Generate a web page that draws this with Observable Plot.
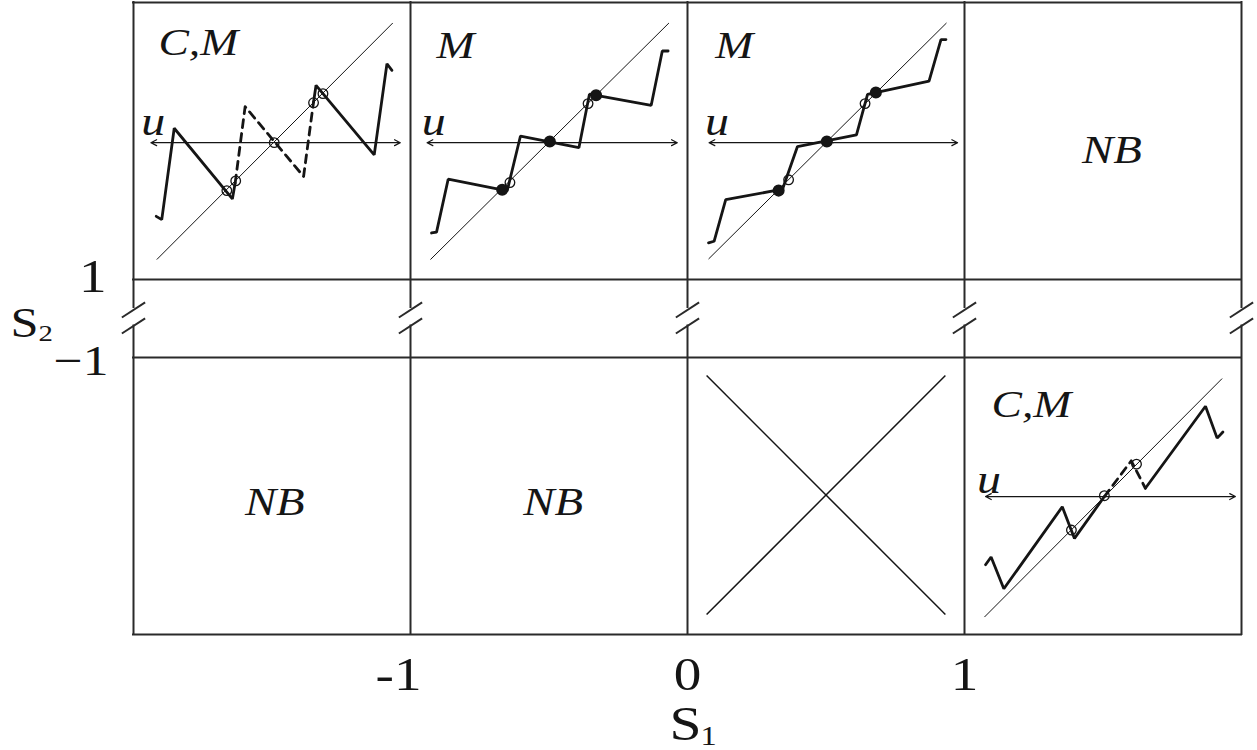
<!DOCTYPE html>
<html><head><meta charset="utf-8">
<script src="https://cdn.jsdelivr.net/npm/d3@7"></script>
<script src="https://cdn.jsdelivr.net/npm/@observablehq/plot@0.6"></script>
<style>body{margin:0;background:#fff}</style>
</head><body><div id="chart"></div>
<script>
// ---- grid of the S1 x S2 plane ----
const colEdges = [-2, -1, 0, 1, 2];
const rowEdges = [-2, -1, 1, 2];
const xTickValues = [-1, 0, 1];
const xTickLabels = ["-1", "0", "1"];
const yTickValues = [1, -1];
const yTickLabels = ["1", "−1"];
const breakTop = 0.28, breakBottom = -0.19;     // axis break in the S2 gap (-1,1)
const breakSlashes = [0.22, -0.19];             // centres of the "//" marks

// ---- panel origins: [S1 column start, S2 row start] ----
const originP1 = [-2, 1], originP2 = [-1, 1], originP3 = [0, 1], originP4 = [1, 1];
const originP5 = [-2, -2], originP6 = [-1, -2], originP7 = [0, -2], originP8 = [1, -2];

// ---- panel 1 (C,M) : local [u,v] in the unit panel ----
const p1Solid = [[0.082,0.228],[0.102,0.216],[0.147,0.546],[0.357,0.291],[0.367,0.348]];
const p1Dashed = [[0.367,0.348],[0.403,0.624],[0.614,0.372],[0.650,0.641]];
const p1Solid2 = [[0.650,0.641],[0.659,0.701],[0.869,0.450],[0.915,0.779],[0.933,0.755]];
const p1Open = [[0.337,0.321],[0.369,0.356],[0.508,0.494],[0.650,0.638],[0.684,0.671]];
const p1Diag = [[0.084,0.072],[0.936,0.926]];
const p1Axis = [0.063, 0.963, 0.494];

// ---- panel 2 (M) ----
const p2Curve = [[0.076,0.168],[0.094,0.171],[0.136,0.362],[0.349,0.320],[0.397,0.518],[0.608,0.476],[0.646,0.669],[0.869,0.629],[0.909,0.825],[0.930,0.825]];
const p2Filled = [[0.331,0.324],[0.503,0.498],[0.670,0.665]];
const p2Open = [[0.359,0.350],[0.641,0.635]];
const p2Diag = [[0.072,0.072],[0.933,0.926]];
const p2Axis = [0.060, 0.963, 0.494];

// ---- panel 3 (M) ----
const p3Curve = [[0.076,0.132],[0.096,0.138],[0.138,0.288],[0.343,0.326],[0.397,0.480],[0.610,0.522],[0.650,0.668],[0.872,0.716],[0.915,0.866],[0.933,0.866]];
const p3Filled = [[0.329,0.321],[0.503,0.498],[0.680,0.675]];
const p3Open = [[0.365,0.360],[0.641,0.635]];
const p3Diag = [[0.076,0.074],[0.935,0.926]];
const p3Axis = [0.078, 0.975, 0.494];

// ---- panel 7 (cross) ----
const p7Cross = [[[0.069,0.072],[0.931,0.935]], [[0.069,0.935],[0.931,0.072]]];

// ---- panel 8 (C,M) ----
const p8Solid = [[0.076,0.252],[0.096,0.280],[0.142,0.165],[0.353,0.461],[0.397,0.347],[0.505,0.498]];
const p8Dashed = [[0.505,0.498],[0.602,0.627],[0.653,0.528]];
const p8Solid2 = [[0.653,0.528],[0.870,0.824],[0.912,0.709],[0.933,0.731]];
const p8Open = [[0.386,0.377],[0.505,0.501],[0.621,0.615]];
const p8Diag = [[0.072,0.063],[0.930,0.924]];
const p8Axis = [0.076, 0.978, 0.498];

// ---- panel labels ----
const regimeLabels = ["C,M", "M", "M", "C,M"];
const regimeOrigins = [originP1, originP2, originP3, originP8];
const regimeAnchors = [[0.09,0.81],[0.094,0.80],[0.10,0.80],[0.0975,0.786]];
const nbOrigins = [originP4, originP5, originP6];
const nbAnchors = [[0.532,0.421],[0.51,0.431],[0.515,0.431]];
const uOrigins = [originP1, originP2, originP3, originP8];
const uAnchors = [[0.028,0.52],[0.041,0.52],[0.063,0.52],[0.045,0.51]];

// ---- broken S2 axis: rows keep full size, the gap (-1,1) is compressed ----
const gapUnits = 78 / 277;
const s2ToY = s => s >= 1 ? s + gapUnits : s <= -1 ? s + 2 : 1 + (s + 1) / 2 * gapUnits;

// ---- helpers ----
const place = (pts, [c, r]) => pts.map(([u, v]) => ({x: c + u, y: s2ToY(r + v)}));
const pieces = (list) => list.flatMap((pts, i) => pts.map(p => ({...p, z: i})));
const segs = (list) => list.map(([a, b]) => ({x1: a.x, y1: a.y, x2: b.x, y2: b.y}));

const solidLines = pieces([place(p1Solid, originP1), place(p1Solid2, originP1), place(p2Curve, originP2),
  place(p3Curve, originP3), place(p8Solid, originP8), place(p8Solid2, originP8)]);
const dashedLines = pieces([place(p1Dashed, originP1), place(p8Dashed, originP8)]);
const diagonals = segs([place(p1Diag, originP1), place(p2Diag, originP2), place(p3Diag, originP3), place(p8Diag, originP8)]);
const crossLines = segs(p7Cross.map(s => place(s, originP7)));
const axes = [[p1Axis, originP1], [p2Axis, originP2], [p3Axis, originP3], [p8Axis, originP8]].flatMap(([[a, b, v], [c, r]]) => {
  const m = c + (a + b) / 2, y = s2ToY(r + v);
  return [{x1: m, x2: c + a, y}, {x1: m, x2: c + b, y}];
});
const openDots = [...place(p1Open, originP1), ...place(p2Open, originP2), ...place(p3Open, originP3), ...place(p8Open, originP8)];
const filledDots = [...place(p2Filled, originP2), ...place(p3Filled, originP3)];
const labelsAt = (txt, origins, anchors) => origins.map(([c, r], i) => ({x: c + anchors[i][0], y: s2ToY(r + anchors[i][1]), t: Array.isArray(txt) ? txt[i] : txt}));
const hLines = rowEdges.map(r => ({y: s2ToY(r)}));
const vTop = colEdges.map(c => ({x: c, y1: s2ToY(2), y2: s2ToY(breakTop)}));
const vBottom = colEdges.map(c => ({x: c, y1: s2ToY(breakBottom), y2: s2ToY(-2)}));
const slashes = colEdges.flatMap(c => breakSlashes.map(s => ({x1: c - 0.042, y1: s2ToY(s - 0.195), x2: c + 0.042, y2: s2ToY(s + 0.195)})));
const xTicks = xTickValues.map((v, i) => ({x: v, y: s2ToY(-2), t: xTickLabels[i]}));
const yTicks = yTickValues.map((v, i) => ({x: -2, y: s2ToY(v), t: yTickLabels[i]}));

const ink = "#151515", frameInk = "#2a2a2a";
const serif = "Liberation Serif";
const T = (o) => ({text: "t", x: "x", y: "y", lineAnchor: "bottom", fontFamily: serif, fill: ink, ...o});
const plain = "plain-text"; // texts drawn without the horizontal stretch

const chart = Plot.plot({
  width: 1257, height: 750,
  marginLeft: 133, marginRight: 16, marginTop: 2, marginBottom: 116,
  x: {domain: [-2, 2], axis: null},
  y: {domain: [0, 2 + gapUnits], axis: null},
  style: {fontFamily: serif, background: "white", overflow: "visible"},
  marks: [
    Plot.ruleY(hLines, {y: "y", x1: -2, x2: 2, stroke: frameInk, strokeWidth: 2, strokeLinecap: "square"}),
    Plot.ruleX(vTop, {x: "x", y1: "y1", y2: "y2", stroke: frameInk, strokeWidth: 2, strokeLinecap: "square"}),
    Plot.ruleX(vBottom, {x: "x", y1: "y1", y2: "y2", stroke: frameInk, strokeWidth: 2, strokeLinecap: "square"}),
    Plot.link(slashes, {x1: "x1", y1: "y1", x2: "x2", y2: "y2", stroke: frameInk, strokeWidth: 2}),
    Plot.link(diagonals, {x1: "x1", y1: "y1", x2: "x2", y2: "y2", stroke: ink, strokeWidth: 1}),
    Plot.link(crossLines, {x1: "x1", y1: "y1", x2: "x2", y2: "y2", stroke: ink, strokeWidth: 1.5}),
    Plot.arrow(axes, {x1: "x1", x2: "x2", y1: "y", y2: "y", stroke: ink, strokeWidth: 1.2, headLength: 8, headAngle: 55}),
    Plot.line(solidLines, {x: "x", y: "y", z: "z", stroke: ink, strokeWidth: 2.8, strokeLinejoin: "miter"}),
    Plot.line(dashedLines, {x: "x", y: "y", z: "z", stroke: ink, strokeWidth: 2.8, strokeDasharray: "8,6"}),
    Plot.dot(openDots, {x: "x", y: "y", r: 4.8, stroke: ink, strokeWidth: 1.3, fill: "none"}),
    Plot.dot(filledDots, {x: "x", y: "y", r: 5.3, fill: ink, stroke: ink}),
    Plot.text(labelsAt(regimeLabels, regimeOrigins, regimeAnchors), T({textAnchor: "start", fontSize: 38, fontStyle: "italic"})),
    Plot.text(labelsAt("NB", nbOrigins, nbAnchors), T({textAnchor: "middle", fontSize: 39, fontStyle: "italic"})),
    Plot.text(labelsAt("u", uOrigins, uAnchors), T({textAnchor: "start", fontSize: 40, fontStyle: "italic", ariaLabel: plain})),
    Plot.text(xTicks.filter(d => d.x < 0), T({dx: -12, dy: 55, fontSize: 46})),
    Plot.text(xTicks.filter(d => d.x >= 0), T({dy: 55, fontSize: 46})),
    Plot.text([{x: 0, y: s2ToY(-2), t: "S"}], T({textAnchor: "start", dx: -18, dy: 105, fontSize: 48})),
    Plot.text([{x: 0, y: s2ToY(-2), t: "1"}], T({textAnchor: "start", dx: 13, dy: 110, fontSize: 27})),
    Plot.text(yTicks.slice(0, 1), T({textAnchor: "end", dx: -27, dy: 12, fontSize: 46, ariaLabel: plain})),
    Plot.text(yTicks.slice(1), T({textAnchor: "end", dx: -25, dy: 17, fontSize: 43, ariaLabel: plain})),
    Plot.text([{x: -2, y: s2ToY(0), t: "S"}], T({textAnchor: "start", dx: -123, dy: 18, fontSize: 42, ariaLabel: plain})),
    Plot.text([{x: -2, y: s2ToY(0), t: "2"}], T({textAnchor: "start", dx: -95, dy: 22, fontSize: 24, ariaLabel: plain}))
  ]
});

// the original figure is stretched horizontally; widen each glyph run about its anchor
d3.select(chart).selectAll("g").filter(function () { return this.getAttribute("aria-label") !== plain; })
  .selectAll(":scope > text").each(function () {
    const t = this.getAttribute("transform");
    if (t) this.setAttribute("transform", t + " scale(1.2,1)");
  });
document.getElementById("chart").append(chart);
</script>
</body></html>
